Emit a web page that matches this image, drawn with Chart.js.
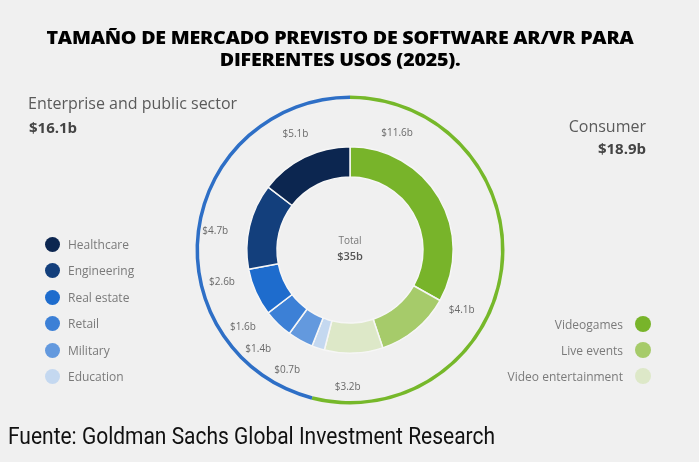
<!DOCTYPE html>
<html>
<head>
<meta charset="utf-8">
<script src="https://cdn.jsdelivr.net/npm/chart.js@4.4.1/dist/chart.umd.min.js"></script>
<style>
  html, body { margin:0; padding:0; background:#f0f0f0; }
  #wrap { position:relative; width:699px; height:462px; overflow:hidden; background:#f0f0f0; }
  #c { position:absolute; left:0; top:0; }
  .t { position:absolute; white-space:nowrap; font-family:"Open Sans", sans-serif; }
  #title { left:0; width:680px; top:27px; text-align:center; font-family:"Open Sans",sans-serif; font-weight:800; font-size:17px; line-height:22px; color:#000; letter-spacing:-0.2px; }
  #title span { display:inline-block; }
  #footer { left:8px; top:421px; font-family:"Roboto", sans-serif; font-size:24.5px; line-height:30px; color:#111; transform-origin:0 0; }
  .grp { font-size:16px; color:#5a5a5a; }
  .grpv { font-size:15px; font-weight:700; color:#444; }
  .leg { position:absolute; display:flex; align-items:center; font-family:"Open Sans",sans-serif; font-size:12px; color:#7a7a7a; height:16px; }
  .dot { width:15px; height:15px; border-radius:50%; }
  #center1 { left:300px; width:100px; text-align:center; top:233px; font-size:10px; color:#777; }
  #center2 { left:300px; width:100px; text-align:center; top:248px; font-size:11px; font-weight:600; color:#555; }
</style>
</head>
<body>
<div id="wrap">
  <canvas id="c" width="699" height="462"></canvas>
  <div id="title" class="t"></div>
  <div id="footer" class="t"></div>
  <div id="grpL" class="t grp" style="left:28px;top:92px;"></div>
  <div id="grpLv" class="t grpv" style="left:29px;top:117px;"></div>
  <div id="grpR" class="t grp" style="right:53px;top:115px;"></div>
  <div id="grpRv" class="t grpv" style="right:53px;top:138px;"></div>
  <div id="center1" class="t"></div>
  <div id="center2" class="t"></div>
</div>
<script>
// ---- data ----
const titleLines = ['TAMAÑO DE MERCADO PREVISTO DE SOFTWARE AR/VR PARA', 'DIFERENTES USOS (2025).'];
const sourceText = 'Fuente: Goldman Sachs Global Investment Research';
const segmentLabels = ['Videogames', 'Live events', 'Video entertainment', 'Education', 'Military', 'Retail', 'Real estate', 'Engineering', 'Healthcare'];
const segmentValues = [11.6, 4.1, 3.2, 0.7, 1.4, 1.6, 2.6, 4.7, 5.1];
const groupLabels = ['Consumer', 'Enterprise and public sector'];
const groupValues = [18.9, 16.1];
const totalLabel = 'Total';
const totalValue = 35;
const consumerLegend = ['Videogames', 'Live events', 'Video entertainment'];
const enterpriseLegend = ['Healthcare', 'Engineering', 'Real estate', 'Retail', 'Military', 'Education'];

// ---- styles / layout ----
const segmentColors = ['#78b42a', '#a6cb6a', '#dde8c8', '#c4d8f0', '#6399de', '#3c80d6', '#1e6ccd', '#133f7c', '#0c2650'];
const groupColors = ['#76b82a', '#2e6fc6'];
const labelNudgeDeg = [-37.7, -22, 3, 9.5, 14, 10, 10, -5.5, 1];
const labelRadius = [126, 127, 137, 136, 135, 132, 132, 136, 128];
const titleTargetWidth = 587;
const footerTargetWidth = 487;

const fmt = v => '$' + v + 'b';
const fmt1 = v => '$' + v.toFixed(1) + 'b';

const titleEl = document.getElementById('title');
titleEl.innerHTML = titleLines.map(l => '<span>' + l + '</span>').join('<br>');
const footerEl = document.getElementById('footer');
footerEl.textContent = sourceText;
document.getElementById('grpL').textContent = groupLabels[1];
document.getElementById('grpLv').textContent = fmt1(groupValues[1]);
document.getElementById('grpR').textContent = groupLabels[0];
document.getElementById('grpRv').textContent = fmt1(groupValues[0]);
document.getElementById('center1').textContent = totalLabel;
document.getElementById('center2').textContent = fmt(totalValue);

// fit title and footer widths
const spans = titleEl.querySelectorAll('span');
const s = titleTargetWidth / spans[0].getBoundingClientRect().width;
spans.forEach(sp => { sp.style.transform = 'scaleX(' + s + ')'; sp.style.transformOrigin = '50% 50%'; });
const fs = footerTargetWidth / footerEl.getBoundingClientRect().width;
footerEl.style.transform = 'scaleX(' + fs + ')';

const wrap = document.getElementById('wrap');
enterpriseLegend.forEach((name, i) => {
  const idx = segmentLabels.indexOf(name);
  const d = document.createElement('div');
  d.className = 'leg';
  d.style.left = '45px';
  d.style.top = (236 + i * 26.5) + 'px';
  d.innerHTML = '<span class="dot" style="background:' + segmentColors[idx] + '"></span><span style="margin-left:8px">' + name + '</span>';
  wrap.appendChild(d);
});
consumerLegend.forEach((name, i) => {
  const idx = segmentLabels.indexOf(name);
  const d = document.createElement('div');
  d.className = 'leg';
  d.style.right = '48px';
  d.style.top = (316 + i * 26) + 'px';
  d.innerHTML = '<span style="margin-right:12px">' + name + '</span><span class="dot" style="width:16px;height:16px;background:' + segmentColors[idx] + '"></span>';
  wrap.appendChild(d);
});

const arcLabels = {
  id: 'arcLabels',
  afterDatasetsDraw(chart) {
    const meta = chart.getDatasetMeta(2);
    const ctx = chart.ctx;
    ctx.save();
    ctx.font = '10px "Open Sans", sans-serif';
    ctx.fillStyle = '#6a6a6a';
    ctx.textAlign = 'center';
    ctx.textBaseline = 'middle';
    meta.data.forEach((arc, i) => {
      const p = arc.getProps(['x', 'y', 'startAngle', 'endAngle'], true);
      const a = (p.startAngle + p.endAngle) / 2 + labelNudgeDeg[i] * Math.PI / 180;
      ctx.fillText(fmt1(segmentValues[i]), p.x + labelRadius[i] * Math.cos(a), p.y + labelRadius[i] * Math.sin(a));
    });
    ctx.restore();
  }
};

new Chart(document.getElementById('c'), {
  type: 'doughnut',
  data: {
    labels: segmentLabels,
    datasets: [
      { data: groupValues, backgroundColor: groupColors, borderWidth: 0, weight: 3.5 },
      { data: [1], backgroundColor: 'rgba(0,0,0,0)', borderWidth: 0, weight: 47.5 },
      { data: segmentValues, backgroundColor: segmentColors, borderColor: '#f6f6f6', borderWidth: 1.5, weight: 30 }
    ]
  },
  options: {
    responsive: false,
    animation: false,
    radius: 154.5,
    cutout: '47.25%',
    layout: { padding: { top: 38, left: 1 } },
    plugins: { legend: { display: false }, tooltip: { enabled: false }, title: { display: false } }
  },
  plugins: [arcLabels]
});
</script>
</body>
</html>
